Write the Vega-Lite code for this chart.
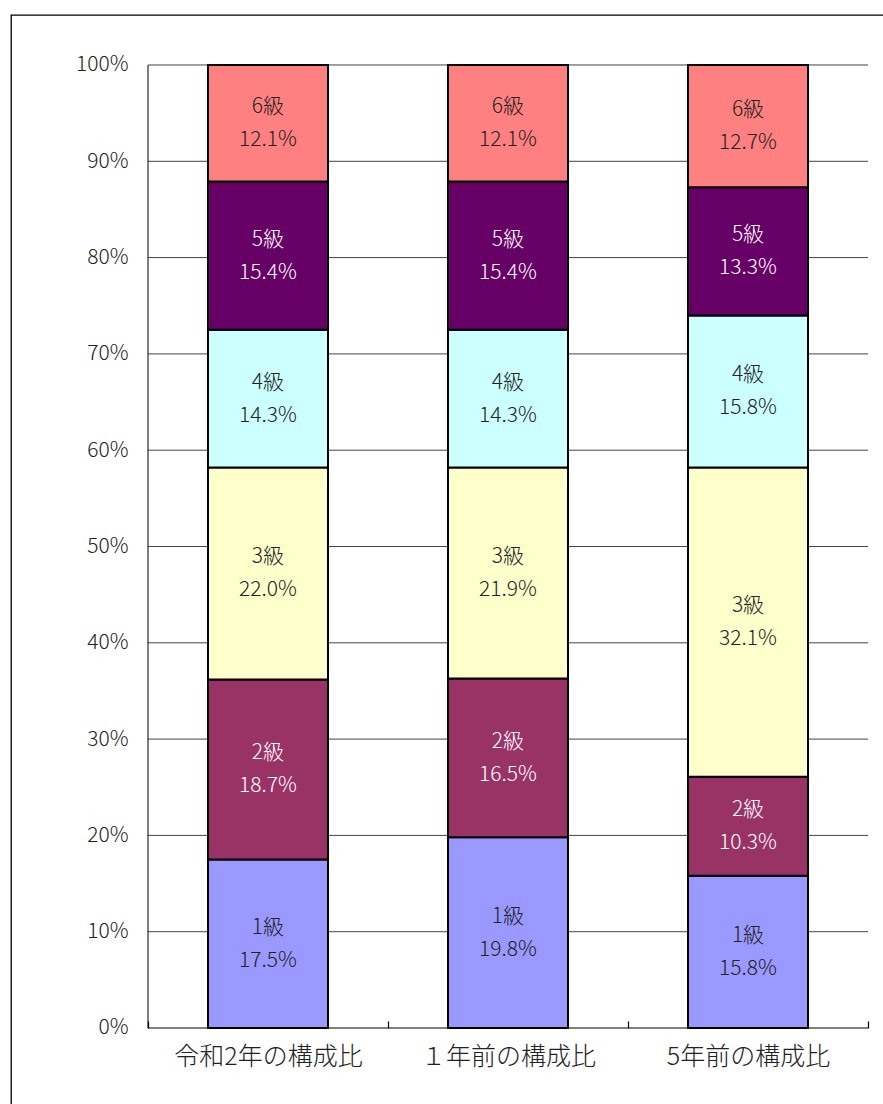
{
  "$schema": "https://vega.github.io/schema/vega-lite/v6.json",
  "width": 880,
  "height": 1100,
  "autosize": "none",
  "padding": {"left": 11, "top": 15, "right": 0, "bottom": 0},
  "background": "white",
  "config": {
    "view": {"stroke": "#000", "strokeWidth": 1.3},
    "font": "Noto Sans CJK JP",
    "axis": {"labelFont": "Noto Sans CJK JP", "labelColor": "#222", "labelFontWeight": 300}
  },
  "datasets": {
    "shares": [
      {"period": "令和2年の構成比", "grade": "1級", "value": 0.175},
      {"period": "令和2年の構成比", "grade": "2級", "value": 0.187},
      {"period": "令和2年の構成比", "grade": "3級", "value": 0.220},
      {"period": "令和2年の構成比", "grade": "4級", "value": 0.143},
      {"period": "令和2年の構成比", "grade": "5級", "value": 0.154},
      {"period": "令和2年の構成比", "grade": "6級", "value": 0.121},
      {"period": "１年前の構成比", "grade": "1級", "value": 0.198},
      {"period": "１年前の構成比", "grade": "2級", "value": 0.165},
      {"period": "１年前の構成比", "grade": "3級", "value": 0.219},
      {"period": "１年前の構成比", "grade": "4級", "value": 0.143},
      {"period": "１年前の構成比", "grade": "5級", "value": 0.154},
      {"period": "１年前の構成比", "grade": "6級", "value": 0.121},
      {"period": "5年前の構成比", "grade": "1級", "value": 0.158},
      {"period": "5年前の構成比", "grade": "2級", "value": 0.103},
      {"period": "5年前の構成比", "grade": "3級", "value": 0.321},
      {"period": "5年前の構成比", "grade": "4級", "value": 0.158},
      {"period": "5年前の構成比", "grade": "5級", "value": 0.133},
      {"period": "5年前の構成比", "grade": "6級", "value": 0.127}
    ],
    "grid": [
      {"v": 0}, {"v": 0.1}, {"v": 0.2}, {"v": 0.3}, {"v": 0.4}, {"v": 0.5},
      {"v": 0.6}, {"v": 0.7}, {"v": 0.8}, {"v": 0.9}, {"v": 1}
    ]
  },
  "resolve": {"scale": {"x": "independent"}, "axis": {"x": "independent"}},
  "layer": [
    {
      "data": {"name": "grid"},
      "mark": {"type": "rule", "strokeWidth": 1},
      "encoding": {
        "x": {"datum": 0, "type": "quantitative", "scale": {"domain": [-0.190278, 1.031944], "nice": false, "zero": false}, "axis": null},
        "x2": {"datum": 1},
        "y": {
          "field": "v",
          "type": "quantitative",
          "scale": {"domain": [-0.090343, 1.051921], "nice": false, "zero": false},
          "axis": {
            "title": null,
            "orient": "left",
            "offset": -137,
            "format": ".0%",
            "values": [0, 0.1, 0.2, 0.3, 0.4, 0.5, 0.6, 0.7, 0.8, 0.9, 1],
            "ticks": false,
            "domain": false,
            "grid": false,
            "labelFontSize": 21,
            "labelPadding": 20
          }
        },
        "color": {"condition": {"test": "datum.v === 0", "value": "#000"}, "value": "#444"}
      }
    },
    {
      "data": {"name": "grid"},
      "transform": [{"filter": "datum.v === 0"}],
      "mark": {"type": "rule", "strokeWidth": 1, "color": "#000"},
      "encoding": {
        "x": {"datum": 0, "type": "quantitative", "scale": {"domain": [-0.190278, 1.031944], "nice": false, "zero": false}, "axis": null},
        "y": {"datum": 0, "type": "quantitative"},
        "y2": {"datum": 1}
      }
    },
    {
      "data": {"name": "shares"},
      "transform": [
        {"stack": "value", "groupby": ["period"], "sort": [{"field": "grade", "order": "ascending"}], "as": ["y0", "y1"]},
        {"calculate": "(datum.y0 + datum.y1) / 2", "as": "ymid"}
      ],
      "encoding": {
        "x": {
          "field": "period",
          "type": "nominal",
          "sort": ["令和2年の構成比", "１年前の構成比", "5年前の構成比"],
          "scale": {"type": "band", "paddingInner": 0, "paddingOuter": 0.333333, "align": 0.85625},
          "axis": {
            "title": null,
            "orient": "bottom",
            "offset": -87,
            "domain": false,
            "labelAngle": 0,
            "labelFontSize": 25,
            "labelPadding": 23,
            "labelLimit": 0,
            "ticks": true,
            "tickBand": "extent",
            "tickSize": -7,
            "tickWidth": 1.2,
            "tickColor": "#000",
            "grid": false
          }
        }
      },
      "layer": [
        {
          "mark": {"type": "bar", "stroke": "#000", "strokeWidth": 2, "width": {"band": 0.5}},
          "encoding": {
            "y": {"field": "y0", "type": "quantitative"},
            "y2": {"field": "y1"},
            "color": {
              "field": "grade",
              "type": "nominal",
              "scale": {
                "domain": ["1級", "2級", "3級", "4級", "5級", "6級"],
                "range": ["#9999FF", "#993366", "#FFFFCC", "#CCFFFF", "#660066", "#FF8080"]
              },
              "legend": null
            }
          }
        },
        {
          "mark": {"type": "text", "dy": -16, "fontSize": 21, "fontWeight": 300, "align": "center", "baseline": "middle"},
          "encoding": {
            "y": {"field": "ymid", "type": "quantitative"},
            "text": {"field": "grade"},
            "color": {
              "condition": {"test": "datum.grade === '2級' || datum.grade === '5級'", "value": "white"},
              "value": "#222"
            }
          }
        },
        {
          "mark": {"type": "text", "dy": 17, "fontSize": 21, "fontWeight": 300, "align": "center", "baseline": "middle"},
          "encoding": {
            "y": {"field": "ymid", "type": "quantitative"},
            "text": {"field": "value", "format": ".1%"},
            "color": {
              "condition": {"test": "datum.grade === '2級' || datum.grade === '5級'", "value": "white"},
              "value": "#222"
            }
          }
        }
      ]
    }
  ]
}
